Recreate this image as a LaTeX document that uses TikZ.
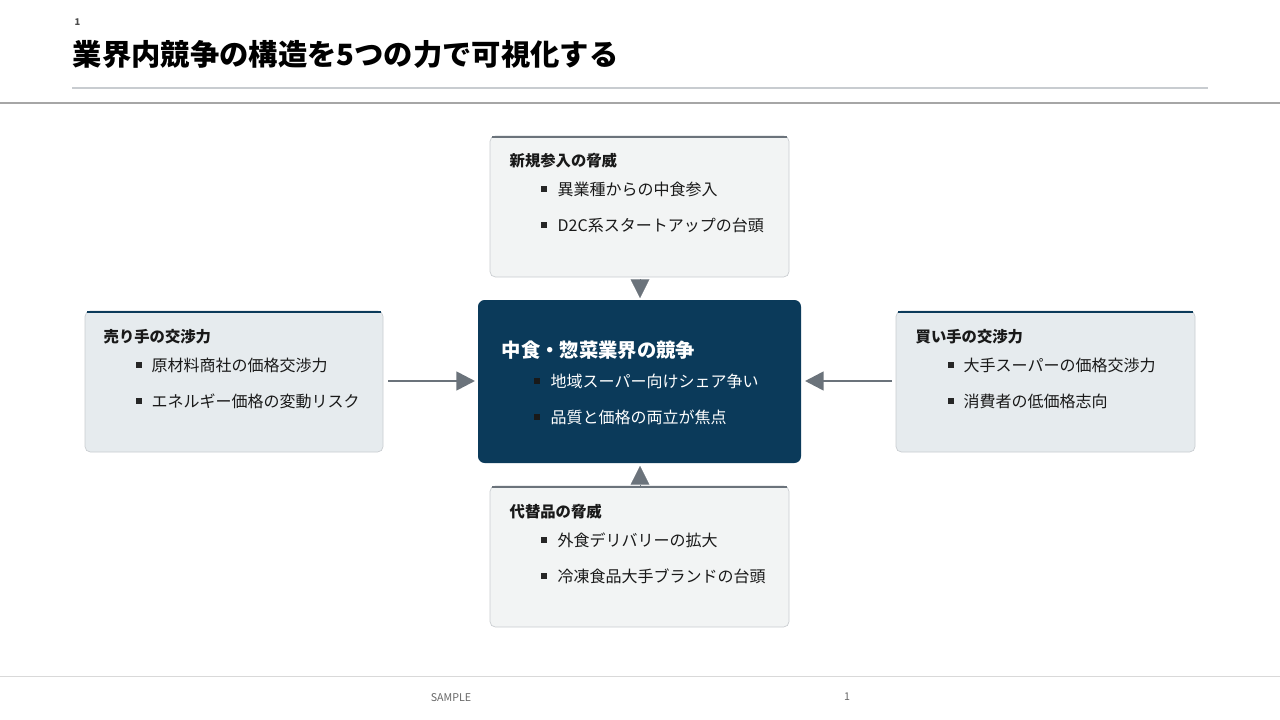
\documentclass[tikz,border=0pt]{standalone}
\usepackage{fontspec}
\setmainfont{Noto Sans CJK JP}
\usepackage{tikz}
\usetikzlibrary{arrows.meta}
\definecolor{navy}{HTML}{0B3A5A}
\definecolor{slate}{HTML}{6B737B}
\definecolor{boxgrey}{HTML}{F2F4F4}
\definecolor{boxblue}{HTML}{E6EBEE}
\definecolor{rulegrey}{HTML}{C8CCD0}
\tikzset{
  force/.style={draw=rulegrey,rounded corners=4pt,line width=0.5pt},
  head/.style={anchor=west,font=\bfseries\fontsize{11.5}{13}\selectfont,text=black!90},
  item/.style={anchor=west,font=\fontsize{12}{14}\selectfont,text=black!90},
  bullet/.style={fill=black!85,minimum size=5pt,inner sep=0pt},
  push/.style={draw=slate,line width=2pt,-{Triangle[length=14pt,width=14pt]},color=slate}
}
\begin{document}
\begin{tikzpicture}[x=0.75pt,y=-0.75pt]
	 \useasboundingbox (0,0) rectangle (1280,720);
	 % header and footer
	 \node[anchor=west,font=\bfseries\fontsize{7}{8}\selectfont,text=black!70] (pagenum) at (70,22) {1};
	 \node[anchor=west,font=\bfseries\fontsize{22}{26}\selectfont] (title) at (68,54) {業界内競争の構造を5つの力で可視化する};
	 \draw[rulegrey,line width=0.8pt] (72,88) -- (1208,88);
	 \draw[black!35,line width=0.8pt] (0,103) -- (1280,103);
	 \draw[black!15,line width=0.6pt] (0,676) -- (1280,676);
	 \node[font=\fontsize{8}{9}\selectfont,text=black!60] (sample) at (451,698) {SAMPLE};
	 \node[font=\fontsize{8}{9}\selectfont,text=black!60] (footnum) at (847,697) {1};
	 % boxes
	 \fill[force,fill=boxgrey] (490,136) rectangle (789,277);
	 \draw[slate,line width=2.2pt] (492,137) -- (787,137);
	 \fill[force,fill=boxblue] (85,311) rectangle (383,452);
	 \draw[navy,line width=2.2pt] (87,312) -- (381,312);
	 \fill[force,fill=boxblue] (896,311) rectangle (1195,452);
	 \draw[navy,line width=2.2pt] (898,312) -- (1193,312);
	 \fill[force,fill=boxgrey] (490,486) rectangle (789,627);
	 \draw[slate,line width=2.2pt] (492,487) -- (787,487);
	 \fill[navy,rounded corners=5pt] (478,300) rectangle (801,463);
	 % arrows
	 \coordinate (l0) at (388,381); \coordinate (l1) at (475,381);
	 \coordinate (r0) at (892,381); \coordinate (r1) at (805,381);
	 \coordinate (t0) at (640,279); \coordinate (t1) at (640,298);
	 \coordinate (b0) at (640,485); \coordinate (b1) at (640,466);
	 \draw[push] (l0) -- (l1);
	 \draw[push] (r0) -- (r1);
	 \draw[push,line width=0.1pt] (t0) -- (t1);
	 \draw[push,line width=0.1pt] (b0) -- (b1);
	 % new entrants
	 \node[head] (entry) at (505,161) {新規参入の脅威};
	 \node[bullet] at (544,189) {}; \node[item] (entry1) at (553,189) {異業種からの中食参入};
	 \node[bullet] at (544,225) {}; \node[item] (entry2) at (553,225) {D2C系スタートアップの台頭};
	 % suppliers
	 \node[head] (supplier) at (99,337) {売り手の交渉力};
	 \node[bullet] at (139,365) {}; \node[item] (supplier1) at (147,365) {原材料商社の価格交渉力};
	 \node[bullet] at (139,401) {}; \node[item] (supplier2) at (147,401) {エネルギー価格の変動リスク};
	 % buyers
	 \node[head] (buyer) at (911,337) {買い手の交渉力};
	 \node[bullet] at (951,365) {}; \node[item] (buyer1) at (959,365) {大手スーパーの価格交渉力};
	 \node[bullet] at (951,401) {}; \node[item] (buyer2) at (959,401) {消費者の低価格志向};
	 % substitutes
	 \node[head] (subst) at (505,512) {代替品の脅威};
	 \node[bullet] at (544,540) {}; \node[item] (subst1) at (553,540) {外食デリバリーの拡大};
	 \node[bullet] at (544,576) {}; \node[item] (subst2) at (553,576) {冷凍食品大手ブランドの台頭};
	 % rivalry
	 \node[head,text=white,font=\bfseries\fontsize{14.5}{17}\selectfont] (rival) at (497,350) {中食・惣菜業界の競争};
	 \node[bullet,fill=black!90] at (537,381) {}; \node[item,text=white] (rival1) at (546,381) {地域スーパー向けシェア争い};
	 \node[bullet,fill=black!90] at (537,417) {}; \node[item,text=white] (rival2) at (546,417) {品質と価格の両立が焦点};
\end{tikzpicture}
\end{document}
